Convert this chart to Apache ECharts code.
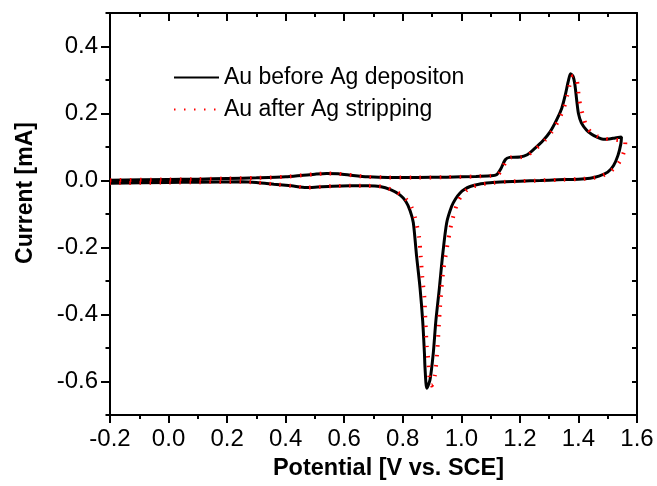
<!DOCTYPE html>
<html>
<head>
<meta charset="utf-8">
<script src="https://cdn.jsdelivr.net/npm/echarts@6/dist/echarts.min.js"></script>
<style>
html,body{margin:0;padding:0;background:#fff;}
#chart{width:657px;height:486px;}
</style>
</head>
<body>
<div id="chart"></div>
<script>
var seriesNames = ['Au before Ag depositon', 'Au after Ag stripping'];

// Au before Ag deposition: potential (V) and current (mA), in scan order
var beforeV = [-0.2, 0.0, 0.1, 0.2, 0.3, 0.4, 0.46, 0.5, 0.54, 0.58, 0.63, 0.68, 0.75, 0.85, 0.95, 1.05, 1.1, 1.12, 1.135, 1.15, 1.165, 1.2, 1.225, 1.25, 1.28, 1.303, 1.325, 1.343, 1.355, 1.365, 1.373, 1.382, 1.388, 1.394, 1.4, 1.41, 1.428, 1.445, 1.462, 1.484, 1.505, 1.525, 1.547,
  1.545, 1.535, 1.52, 1.5, 1.47, 1.44, 1.4, 1.33, 1.27, 1.2, 1.15, 1.098, 1.06, 1.03, 1.01, 0.995, 0.98, 0.967, 0.95, 0.936, 0.925, 0.913, 0.904, 0.893, 0.882, 0.876, 0.874, 0.868, 0.859, 0.847, 0.836, 0.825, 0.81, 0.79, 0.76, 0.722, 0.68, 0.62, 0.56, 0.5, 0.47, 0.42, 0.36, 0.3, 0.25, 0.1, 0.0, -0.2];
var beforeI = [0.001, 0.003, 0.004, 0.006, 0.008, 0.011, 0.016, 0.019, 0.021, 0.02, 0.015, 0.011, 0.009, 0.009, 0.01, 0.012, 0.014, 0.017, 0.035, 0.062, 0.069, 0.07, 0.077, 0.095, 0.12, 0.145, 0.18, 0.216, 0.255, 0.295, 0.319, 0.31, 0.285, 0.24, 0.2, 0.172, 0.15, 0.138, 0.13, 0.123, 0.124, 0.127, 0.13,
  0.11, 0.075, 0.045, 0.025, 0.013, 0.007, 0.004, 0.002, 0.0, -0.002, -0.004, -0.007, -0.011, -0.018, -0.027, -0.038, -0.055, -0.077, -0.126, -0.224, -0.321, -0.419, -0.517, -0.595, -0.62, -0.56, -0.517, -0.419, -0.321, -0.224, -0.126, -0.09, -0.062, -0.043, -0.028, -0.018, -0.016, -0.016, -0.017, -0.02, -0.021, -0.016, -0.011, -0.006, -0.004, -0.005, -0.006, -0.008];

// Au after Ag stripping
var afterV = [-0.2, 0.0, 0.1, 0.2, 0.3, 0.4, 0.46, 0.5, 0.54, 0.58, 0.63, 0.68, 0.75, 0.85, 0.95, 1.05, 1.1, 1.125, 1.14, 1.155, 1.17, 1.205, 1.23, 1.255, 1.285, 1.31, 1.332, 1.35, 1.362, 1.372, 1.382, 1.392, 1.397, 1.402, 1.408, 1.417, 1.428, 1.445, 1.465, 1.49, 1.515, 1.54, 1.56,
  1.559, 1.551, 1.536, 1.508, 1.48, 1.45, 1.4, 1.33, 1.27, 1.2, 1.15, 1.11, 1.07, 1.04, 1.02, 1.005, 0.99, 0.978, 0.966, 0.956, 0.938, 0.927, 0.918, 0.91, 0.899, 0.892, 0.89, 0.887, 0.882, 0.877, 0.874, 0.867, 0.861, 0.856, 0.842, 0.83, 0.815, 0.795, 0.765, 0.725, 0.68, 0.62, 0.56, 0.5, 0.47, 0.42, 0.36, 0.3, 0.25, 0.1, 0.0, -0.2];
var afterI = [0.001, 0.003, 0.004, 0.006, 0.008, 0.011, 0.016, 0.019, 0.021, 0.02, 0.015, 0.011, 0.009, 0.009, 0.01, 0.012, 0.014, 0.018, 0.035, 0.062, 0.069, 0.07, 0.078, 0.095, 0.12, 0.147, 0.18, 0.216, 0.255, 0.292, 0.312, 0.31, 0.285, 0.245, 0.218, 0.19, 0.16, 0.142, 0.132, 0.125, 0.122, 0.12, 0.115,
  0.1, 0.074, 0.05, 0.026, 0.014, 0.008, 0.004, 0.002, 0.0, -0.002, -0.004, -0.007, -0.011, -0.018, -0.027, -0.04, -0.06, -0.09, -0.13, -0.175, -0.273, -0.38, -0.507, -0.58, -0.612, -0.595, -0.576, -0.532, -0.497, -0.41, -0.351, -0.292, -0.224, -0.17, -0.111, -0.08, -0.06, -0.043, -0.028, -0.018, -0.016, -0.016, -0.017, -0.02, -0.021, -0.016, -0.011, -0.006, -0.004, -0.005, -0.006, -0.008];

var yLabelValues = [-0.6, -0.4, -0.2, 0.0, 0.2, 0.4];

function zip(a, b) { return a.map(function (v, i) { return [v, b[i]]; }); }

var FONT = "'Liberation Sans', Arial, sans-serif";
var chart = echarts.init(document.getElementById('chart'), null, { renderer: 'canvas' });
var axisLineStyle = { color: '#000', width: 2 };

chart.setOption({
  animation: false,
  backgroundColor: '#fff',
  grid: { left: 110, right: 20, top: 13, bottom: 64, containLabel: false },
  legend: {
    orient: 'vertical',
    left: 168,
    top: 61,
    itemWidth: 45,
    itemHeight: 20,
    itemGap: 9,
    data: seriesNames,
    itemStyle: { opacity: 0 },
    textStyle: { fontFamily: FONT, fontSize: 23, color: '#000', lineHeight: 20 }
  },
  xAxis: [
    {
      type: 'value', position: 'bottom', min: -0.2, max: 1.6, interval: 0.2,
      name: 'Potential [V vs. SCE]', nameLocation: 'middle', nameGap: 42,
      nameTextStyle: { fontFamily: FONT, fontSize: 23.5, fontWeight: 'bold', color: '#000', padding: [0, 0, 0, 30] },
      axisLine: { show: true, onZero: false, lineStyle: axisLineStyle },
      axisTick: { show: true, inside: false, length: 8, lineStyle: axisLineStyle },
      minorTick: { show: true, splitNumber: 2, length: 4, lineStyle: axisLineStyle },
      axisLabel: { fontFamily: FONT, fontSize: 24, color: '#000', margin: 12, formatter: function (v) { return v.toFixed(1); } },
      splitLine: { show: false }
    },
    {
      type: 'value', position: 'top', min: -0.2, max: 1.6, interval: 0.2,
      axisLine: { show: true, onZero: false, lineStyle: axisLineStyle },
      axisTick: { show: true, inside: true, length: 8, lineStyle: axisLineStyle },
      minorTick: { show: true, splitNumber: 2, length: 4, lineStyle: axisLineStyle },
      axisLabel: { show: false },
      splitLine: { show: false }
    }
  ],
  yAxis: [
    {
      type: 'value', position: 'left', min: -0.7, max: 0.5, interval: 0.1,
      name: 'Current [mA]', nameLocation: 'middle', nameGap: 73, nameRotate: 90,
      nameTextStyle: { fontFamily: FONT, fontSize: 23, fontWeight: 'bold', color: '#000', padding: [0, 0, 0, 42] },
      axisLine: { show: true, onZero: false, lineStyle: axisLineStyle },
      axisTick: { show: true, inside: false, length: 9, customValues: yLabelValues, lineStyle: axisLineStyle },
      axisLabel: { fontFamily: FONT, fontSize: 24, color: '#000', margin: 12, customValues: yLabelValues, formatter: function (v) { return v.toFixed(1); } },
      splitLine: { show: false }
    },
    {
      type: 'value', position: 'right', min: -0.7, max: 0.5, interval: 0.1,
      axisLine: { show: true, onZero: false, lineStyle: axisLineStyle },
      axisTick: { show: true, inside: true, length: 5, lineStyle: axisLineStyle },
      axisLabel: { show: false },
      splitLine: { show: false }
    },
    {
      type: 'value', position: 'left', min: -0.7, max: 0.5, interval: 0.1,
      axisLine: { show: false, onZero: false },
      axisTick: { show: true, inside: false, length: 4.5, lineStyle: axisLineStyle },
      axisLabel: { show: false },
      splitLine: { show: false }
    }
  ],
  series: [
    {
      name: seriesNames[0], type: 'line', xAxisIndex: 0, yAxisIndex: 0,
      data: zip(beforeV, beforeI), symbol: 'none', showSymbol: false, smooth: 0.25,
      lineStyle: { color: '#000', width: 3 }, itemStyle: { color: '#000' }, z: 2
    },
    {
      name: seriesNames[1], type: 'line', xAxisIndex: 0, yAxisIndex: 0,
      data: zip(afterV, afterI), symbol: 'none', showSymbol: false, smooth: 0.25,
      lineStyle: { color: '#ff0000', width: 4, type: [1.5, 8.5], cap: 'butt' }, itemStyle: { color: '#ff0000' }, z: 3
    }
  ]
});
</script>
</body>
</html>
